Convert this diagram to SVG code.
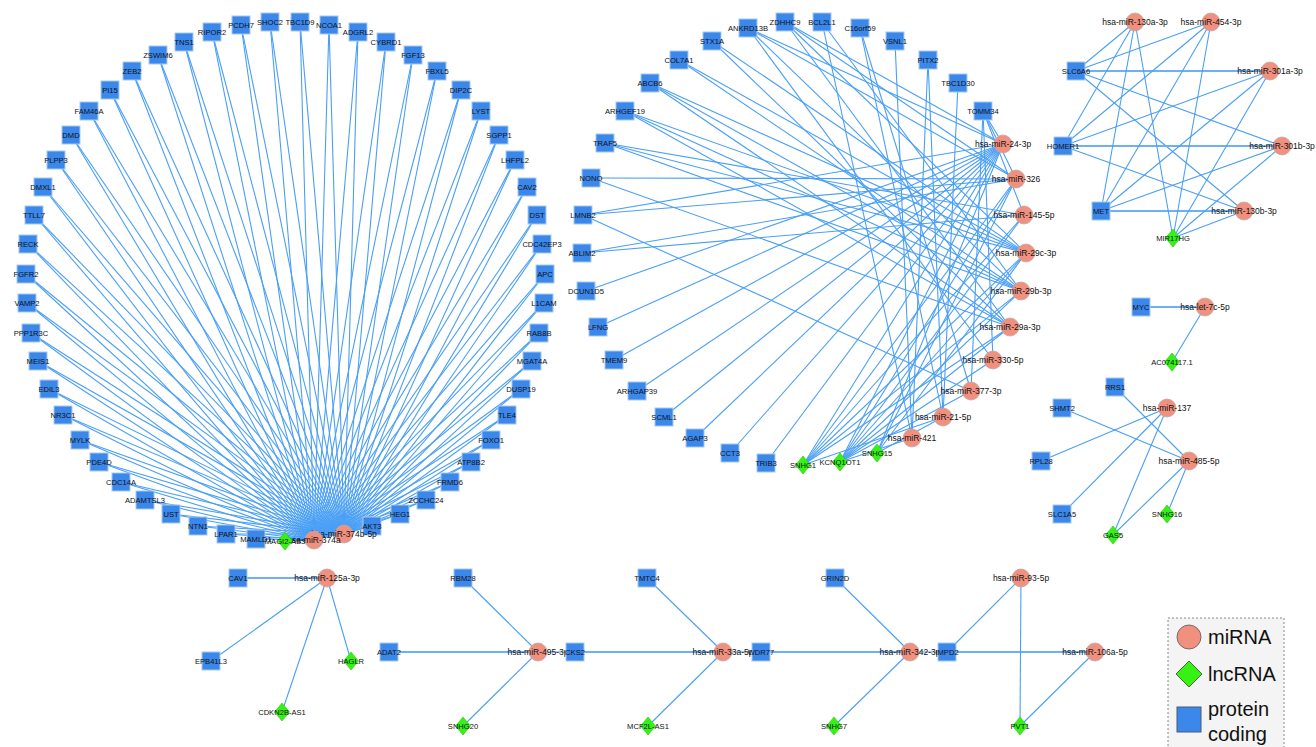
<svg xmlns="http://www.w3.org/2000/svg" width="1316" height="747" viewBox="0 0 1316 747">
<style>
.e line{stroke:#4a9ff5;stroke-width:1.1;fill:none}
.e line.w{stroke:#6db0f7;stroke-width:2.2}
.p{fill:#3b87ea;stroke:#a5c9f5;stroke-width:1}
.m{fill:#f0907f;stroke:#c4a7a4;stroke-width:0.8}
.l{fill:#35f214;stroke:#2cc812;stroke-width:0.6}
text{font-family:"Liberation Sans",Arial,Helvetica,sans-serif;fill:#111;text-anchor:middle;dominant-baseline:central;font-size:7.6px}
text.mt{font-size:8.5px}
.lg{font-size:20px;text-anchor:start;dominant-baseline:alphabetic;fill:#111}
</style>
<defs>
<rect id="sq" x="-9" y="-9" width="18" height="18"/>
<circle id="ci" r="9"/>
<polygon id="di" points="0,-9 7.5,0 0,9 -7.5,0"/>
</defs>
<rect width="1316" height="747" fill="#ffffff"/>
<g id="connectors" class="e">
<!-- left circle: proteins to miR-374a (314,540) and miR-374b-5p (344,534) -->
<line x1="256" y1="539" x2="314" y2="540"/><line x1="256" y1="539" x2="344" y2="534"/>
<line x1="226" y1="534" x2="314" y2="540"/><line x1="226" y1="534" x2="344" y2="534"/>
<line x1="198" y1="526" x2="314" y2="540"/><line x1="198" y1="526" x2="344" y2="534"/>
<line x1="171" y1="514" x2="314" y2="540"/><line x1="171" y1="514" x2="344" y2="534"/>
<line x1="145" y1="500" x2="314" y2="540"/><line x1="145" y1="500" x2="344" y2="534"/>
<line x1="121" y1="482" x2="314" y2="540"/><line x1="121" y1="482" x2="344" y2="534"/>
<line x1="99" y1="462" x2="314" y2="540"/><line x1="99" y1="462" x2="344" y2="534"/>
<line x1="80" y1="440" x2="314" y2="540"/><line x1="80" y1="440" x2="344" y2="534"/>
<line x1="63" y1="415" x2="314" y2="540"/><line x1="63" y1="415" x2="344" y2="534"/>
<line x1="49" y1="389" x2="314" y2="540"/><line x1="49" y1="389" x2="344" y2="534"/>
<line x1="38" y1="361" x2="314" y2="540"/><line x1="38" y1="361" x2="344" y2="534"/>
<line x1="31" y1="333" x2="314" y2="540"/><line x1="31" y1="333" x2="344" y2="534"/>
<line x1="27" y1="303" x2="314" y2="540"/><line x1="27" y1="303" x2="344" y2="534"/>
<line x1="26" y1="274" x2="314" y2="540"/><line x1="26" y1="274" x2="344" y2="534"/>
<line x1="28" y1="244" x2="314" y2="540"/><line x1="28" y1="244" x2="344" y2="534"/>
<line x1="34" y1="215" x2="314" y2="540"/><line x1="34" y1="215" x2="344" y2="534"/>
<line x1="43" y1="187" x2="314" y2="540"/><line x1="43" y1="187" x2="344" y2="534"/>
<line x1="56" y1="160" x2="314" y2="540"/><line x1="56" y1="160" x2="344" y2="534"/>
<line x1="71" y1="135" x2="314" y2="540"/><line x1="71" y1="135" x2="344" y2="534"/>
<line x1="89" y1="111" x2="314" y2="540"/><line x1="89" y1="111" x2="344" y2="534"/>
<line x1="110" y1="90" x2="314" y2="540"/><line x1="110" y1="90" x2="344" y2="534"/>
<line x1="132" y1="71" x2="314" y2="540"/><line x1="132" y1="71" x2="344" y2="534"/>
<line x1="158" y1="55" x2="314" y2="540"/><line x1="158" y1="55" x2="344" y2="534"/>
<line x1="184" y1="42" x2="314" y2="540"/><line x1="184" y1="42" x2="344" y2="534"/>
<line x1="212" y1="32" x2="314" y2="540"/><line x1="212" y1="32" x2="344" y2="534"/>
<line x1="241" y1="25" x2="314" y2="540"/><line x1="241" y1="25" x2="344" y2="534"/>
<line x1="270" y1="22" x2="314" y2="540"/><line x1="270" y1="22" x2="344" y2="534"/>
<line x1="300" y1="22" x2="314" y2="540"/><line x1="300" y1="22" x2="344" y2="534"/>
<line x1="329" y1="25" x2="314" y2="540"/><line x1="329" y1="25" x2="344" y2="534"/>
<line x1="358" y1="32" x2="314" y2="540"/><line x1="358" y1="32" x2="344" y2="534"/>
<line x1="386" y1="42" x2="314" y2="540"/><line x1="386" y1="42" x2="344" y2="534"/>
<line x1="413" y1="55" x2="314" y2="540"/><line x1="413" y1="55" x2="344" y2="534"/>
<line x1="437" y1="71" x2="314" y2="540"/><line x1="437" y1="71" x2="344" y2="534"/>
<line x1="461" y1="90" x2="314" y2="540"/><line x1="461" y1="90" x2="344" y2="534"/>
<line x1="481" y1="111" x2="314" y2="540"/><line x1="481" y1="111" x2="344" y2="534"/>
<line x1="499" y1="135" x2="314" y2="540"/><line x1="499" y1="135" x2="344" y2="534"/>
<line x1="515" y1="160" x2="314" y2="540"/><line x1="515" y1="160" x2="344" y2="534"/>
<line x1="527" y1="187" x2="314" y2="540"/><line x1="527" y1="187" x2="344" y2="534"/>
<line x1="537" y1="215" x2="314" y2="540"/><line x1="537" y1="215" x2="344" y2="534"/>
<line x1="542" y1="244" x2="314" y2="540"/><line x1="542" y1="244" x2="344" y2="534"/>
<line x1="545" y1="274" x2="314" y2="540"/><line x1="545" y1="274" x2="344" y2="534"/>
<line x1="544" y1="303" x2="314" y2="540"/><line x1="544" y1="303" x2="344" y2="534"/>
<line x1="539" y1="333" x2="314" y2="540"/><line x1="539" y1="333" x2="344" y2="534"/>
<line x1="532" y1="361" x2="314" y2="540"/><line x1="532" y1="361" x2="344" y2="534"/>
<line x1="521" y1="389" x2="314" y2="540"/><line x1="521" y1="389" x2="344" y2="534"/>
<line x1="507" y1="415" x2="314" y2="540"/><line x1="507" y1="415" x2="344" y2="534"/>
<line x1="491" y1="440" x2="314" y2="540"/><line x1="491" y1="440" x2="344" y2="534"/>
<line x1="471" y1="462" x2="314" y2="540"/><line x1="471" y1="462" x2="344" y2="534"/>
<line x1="450" y1="482" x2="314" y2="540"/><line x1="450" y1="482" x2="344" y2="534"/>
<line x1="426" y1="500" x2="314" y2="540"/><line x1="426" y1="500" x2="344" y2="534"/>
<line x1="400" y1="514" x2="314" y2="540"/><line x1="400" y1="514" x2="344" y2="534"/>
<line x1="372" y1="526" x2="314" y2="540"/><line x1="372" y1="526" x2="344" y2="534"/>
<line x1="285" y1="541" x2="314" y2="540"/><line x1="285" y1="541" x2="344" y2="534"/>
<!-- middle cluster -->
<line x1="748" y1="28" x2="1003" y2="144"/><line x1="748" y1="28" x2="1016" y2="179"/><line x1="748" y1="28" x2="1021" y2="291"/><line x1="748" y1="28" x2="993" y2="360"/>
<line x1="785" y1="22" x2="1003" y2="144"/><line x1="785" y1="22" x2="1016" y2="179"/><line x1="785" y1="22" x2="1026" y2="253"/><line x1="785" y1="22" x2="1010" y2="327"/>
<line x1="822" y1="22" x2="912" y2="438"/><line x1="822" y1="22" x2="1021" y2="291"/>
<line x1="860" y1="28" x2="943" y2="417"/><line x1="860" y1="28" x2="971" y2="391"/>
<line x1="895" y1="41" x2="912" y2="438"/>
<line x1="928" y1="60" x2="943" y2="417"/><line x1="928" y1="60" x2="912" y2="438"/>
<line x1="958" y1="83" x2="943" y2="417"/>
<line x1="983" y1="111" x2="1003" y2="144"/><line x1="983" y1="111" x2="1016" y2="179"/><line x1="983" y1="111" x2="1024" y2="215"/><line x1="983" y1="111" x2="993" y2="360"/><line x1="983" y1="111" x2="971" y2="391"/>
<line x1="712" y1="41" x2="1026" y2="253"/><line x1="712" y1="41" x2="1010" y2="327"/>
<line x1="679" y1="60" x2="1026" y2="253"/><line x1="679" y1="60" x2="1021" y2="291"/>
<line x1="650" y1="83" x2="1026" y2="253"/><line x1="650" y1="83" x2="1021" y2="291"/><line x1="650" y1="83" x2="1010" y2="327"/>
<line x1="625" y1="111" x2="1026" y2="253"/><line x1="625" y1="111" x2="1021" y2="291"/><line x1="625" y1="111" x2="1010" y2="327"/>
<line x1="605" y1="143" x2="1024" y2="215"/><line x1="605" y1="143" x2="1026" y2="253"/><line x1="605" y1="143" x2="1021" y2="291"/>
<line x1="591" y1="178" x2="1016" y2="179"/><line x1="591" y1="178" x2="1010" y2="327"/>
<line x1="583" y1="215" x2="1003" y2="144"/><line x1="583" y1="215" x2="1016" y2="179"/><line x1="583" y1="215" x2="971" y2="391"/>
<line x1="582" y1="253" x2="1016" y2="179"/><line x1="582" y1="253" x2="1024" y2="215"/>
<line x1="586" y1="291" x2="1003" y2="144"/>
<line x1="598" y1="327" x2="1003" y2="144"/>
<line x1="614" y1="360" x2="1003" y2="144"/>
<line x1="637" y1="391" x2="1003" y2="144"/>
<line x1="664" y1="417" x2="1003" y2="144"/>
<line x1="695" y1="438" x2="1003" y2="144"/>
<line x1="730" y1="453" x2="1003" y2="144"/>
<line x1="766" y1="463" x2="1003" y2="144"/>
<line x1="803" y1="465" x2="1003" y2="144"/><line x1="803" y1="465" x2="1016" y2="179"/><line x1="803" y1="465" x2="1024" y2="215"/><line x1="803" y1="465" x2="1026" y2="253"/><line x1="803" y1="465" x2="1021" y2="291"/><line x1="803" y1="465" x2="1010" y2="327"/><line x1="803" y1="465" x2="943" y2="417"/>
<line x1="840" y1="462" x2="1003" y2="144"/><line x1="840" y1="462" x2="1016" y2="179"/><line x1="840" y1="462" x2="1024" y2="215"/><line x1="840" y1="462" x2="1026" y2="253"/><line x1="840" y1="462" x2="1021" y2="291"/><line x1="840" y1="462" x2="1010" y2="327"/><line x1="840" y1="462" x2="993" y2="360"/><line x1="840" y1="462" x2="971" y2="391"/><line x1="840" y1="462" x2="912" y2="438"/>
<line x1="877" y1="453" x2="1003" y2="144"/><line x1="877" y1="453" x2="1016" y2="179"/><line x1="877" y1="453" x2="1026" y2="253"/><line x1="877" y1="453" x2="943" y2="417"/>
<!-- right cluster 1 -->
<line x1="1076" y1="71" x2="1135" y2="22"/><line x1="1076" y1="71" x2="1211" y2="22"/><line class="w" x1="1076" y1="71" x2="1270" y2="71"/><line x1="1076" y1="71" x2="1282" y2="146"/><line x1="1076" y1="71" x2="1244" y2="211"/>
<line x1="1063" y1="146" x2="1135" y2="22"/><line x1="1063" y1="146" x2="1211" y2="22"/><line x1="1063" y1="146" x2="1270" y2="71"/><line class="w" x1="1063" y1="146" x2="1282" y2="146"/><line x1="1063" y1="146" x2="1244" y2="211"/>
<line x1="1101" y1="211" x2="1135" y2="22"/><line x1="1101" y1="211" x2="1211" y2="22"/><line x1="1101" y1="211" x2="1270" y2="71"/><line x1="1101" y1="211" x2="1282" y2="146"/><line class="w" x1="1101" y1="211" x2="1244" y2="211"/>
<line x1="1173" y1="238" x2="1135" y2="22"/><line x1="1173" y1="238" x2="1211" y2="22"/><line x1="1173" y1="238" x2="1270" y2="71"/><line x1="1173" y1="238" x2="1282" y2="146"/><line x1="1173" y1="238" x2="1244" y2="211"/>
<!-- right cluster 2 -->
<line class="w" x1="1141" y1="307" x2="1205" y2="307"/>
<line x1="1205" y1="307" x2="1172" y2="362"/>
<line x1="1115" y1="387" x2="1189" y2="461"/>
<line x1="1062" y1="408" x2="1189" y2="461"/>
<line x1="1041" y1="461" x2="1167" y2="408"/>
<line x1="1062" y1="514" x2="1167" y2="408"/>
<line x1="1167" y1="408" x2="1113" y2="535"/>
<line x1="1189" y1="461" x2="1113" y2="535"/>
<line x1="1189" y1="461" x2="1167" y2="514"/>
<!-- bottom -->
<line class="w" x1="238" y1="578" x2="327" y2="578"/>
<line x1="327" y1="578" x2="211" y2="661"/>
<line x1="327" y1="578" x2="351" y2="661"/>
<line x1="327" y1="578" x2="282" y2="712"/>
<line x1="463" y1="578" x2="538" y2="652"/>
<line class="w" x1="389" y1="652" x2="538" y2="652"/>
<line x1="538" y1="652" x2="575" y2="652"/>
<line x1="538" y1="652" x2="463" y2="726"/>
<line class="w" x1="575" y1="652" x2="723" y2="652"/>
<line x1="647" y1="578" x2="723" y2="652"/>
<line x1="723" y1="652" x2="648" y2="726"/>
<line x1="723" y1="652" x2="761" y2="652"/>
<line class="w" x1="761" y1="652" x2="910" y2="652"/>
<line x1="835" y1="578" x2="910" y2="652"/>
<line x1="910" y1="652" x2="834" y2="726"/>
<line x1="910" y1="652" x2="947" y2="652"/>
<line class="w" x1="947" y1="652" x2="1095" y2="652"/>
<line x1="947" y1="652" x2="1021" y2="578"/>
<line x1="1021" y1="578" x2="1020" y2="726"/>
<line x1="1095" y1="652" x2="1020" y2="726"/>
</g>
<g id="nodes">
<!-- left circle proteins -->
<g id="MAMLD1" transform="translate(256,539)"><use href="#sq" class="p"/><text>MAMLD1</text></g>
<g id="LPAR1" transform="translate(226,534)"><use href="#sq" class="p"/><text>LPAR1</text></g>
<g id="NTN1" transform="translate(198,526)"><use href="#sq" class="p"/><text>NTN1</text></g>
<g id="UST" transform="translate(171,514)"><use href="#sq" class="p"/><text>UST</text></g>
<g id="ADAMTSL3" transform="translate(145,500)"><use href="#sq" class="p"/><text>ADAMTSL3</text></g>
<g id="CDC14A" transform="translate(121,482)"><use href="#sq" class="p"/><text>CDC14A</text></g>
<g id="PDE4D" transform="translate(99,462)"><use href="#sq" class="p"/><text>PDE4D</text></g>
<g id="MYLK" transform="translate(80,440)"><use href="#sq" class="p"/><text>MYLK</text></g>
<g id="NR3C1" transform="translate(63,415)"><use href="#sq" class="p"/><text>NR3C1</text></g>
<g id="EDIL3" transform="translate(49,389)"><use href="#sq" class="p"/><text>EDIL3</text></g>
<g id="MEIS1" transform="translate(38,361)"><use href="#sq" class="p"/><text>MEIS1</text></g>
<g id="PPP1R3C" transform="translate(31,333)"><use href="#sq" class="p"/><text>PPP1R3C</text></g>
<g id="VAMP2" transform="translate(27,303)"><use href="#sq" class="p"/><text>VAMP2</text></g>
<g id="FGFR2" transform="translate(26,274)"><use href="#sq" class="p"/><text>FGFR2</text></g>
<g id="RECK" transform="translate(28,244)"><use href="#sq" class="p"/><text>RECK</text></g>
<g id="TTLL7" transform="translate(34,215)"><use href="#sq" class="p"/><text>TTLL7</text></g>
<g id="DMXL1" transform="translate(43,187)"><use href="#sq" class="p"/><text>DMXL1</text></g>
<g id="PLPP3" transform="translate(56,160)"><use href="#sq" class="p"/><text>PLPP3</text></g>
<g id="DMD" transform="translate(71,135)"><use href="#sq" class="p"/><text>DMD</text></g>
<g id="FAM46A" transform="translate(89,111)"><use href="#sq" class="p"/><text>FAM46A</text></g>
<g id="PI15" transform="translate(110,90)"><use href="#sq" class="p"/><text>PI15</text></g>
<g id="ZEB2" transform="translate(132,71)"><use href="#sq" class="p"/><text>ZEB2</text></g>
<g id="ZSWIM6" transform="translate(158,55)"><use href="#sq" class="p"/><text>ZSWIM6</text></g>
<g id="TNS1" transform="translate(184,42)"><use href="#sq" class="p"/><text>TNS1</text></g>
<g id="RIPOR2" transform="translate(212,32)"><use href="#sq" class="p"/><text>RIPOR2</text></g>
<g id="PCDH7" transform="translate(241,25)"><use href="#sq" class="p"/><text>PCDH7</text></g>
<g id="SHOC2" transform="translate(270,22)"><use href="#sq" class="p"/><text>SHOC2</text></g>
<g id="TBC1D9" transform="translate(300,22)"><use href="#sq" class="p"/><text>TBC1D9</text></g>
<g id="NCOA1" transform="translate(329,25)"><use href="#sq" class="p"/><text>NCOA1</text></g>
<g id="ADGRL2" transform="translate(358,32)"><use href="#sq" class="p"/><text>ADGRL2</text></g>
<g id="CYBRD1" transform="translate(386,42)"><use href="#sq" class="p"/><text>CYBRD1</text></g>
<g id="FGF13" transform="translate(413,55)"><use href="#sq" class="p"/><text>FGF13</text></g>
<g id="FBXL5" transform="translate(437,71)"><use href="#sq" class="p"/><text>FBXL5</text></g>
<g id="DIP2C" transform="translate(461,90)"><use href="#sq" class="p"/><text>DIP2C</text></g>
<g id="LYST" transform="translate(481,111)"><use href="#sq" class="p"/><text>LYST</text></g>
<g id="SGPP1" transform="translate(499,135)"><use href="#sq" class="p"/><text>SGPP1</text></g>
<g id="LHFPL2" transform="translate(515,160)"><use href="#sq" class="p"/><text>LHFPL2</text></g>
<g id="CAV2" transform="translate(527,187)"><use href="#sq" class="p"/><text>CAV2</text></g>
<g id="DST" transform="translate(537,215)"><use href="#sq" class="p"/><text>DST</text></g>
<g id="CDC42EP3" transform="translate(542,244)"><use href="#sq" class="p"/><text>CDC42EP3</text></g>
<g id="APC" transform="translate(545,274)"><use href="#sq" class="p"/><text>APC</text></g>
<g id="L1CAM" transform="translate(544,303)"><use href="#sq" class="p"/><text>L1CAM</text></g>
<g id="RAB8B" transform="translate(539,333)"><use href="#sq" class="p"/><text>RAB8B</text></g>
<g id="MGAT4A" transform="translate(532,361)"><use href="#sq" class="p"/><text>MGAT4A</text></g>
<g id="DUSP19" transform="translate(521,389)"><use href="#sq" class="p"/><text>DUSP19</text></g>
<g id="TLE4" transform="translate(507,415)"><use href="#sq" class="p"/><text>TLE4</text></g>
<g id="FOXO1" transform="translate(491,440)"><use href="#sq" class="p"/><text>FOXO1</text></g>
<g id="ATP8B2" transform="translate(471,462)"><use href="#sq" class="p"/><text>ATP8B2</text></g>
<g id="FRMD6" transform="translate(450,482)"><use href="#sq" class="p"/><text>FRMD6</text></g>
<g id="ZCCHC24" transform="translate(426,500)"><use href="#sq" class="p"/><text>ZCCHC24</text></g>
<g id="HEG1" transform="translate(400,514)"><use href="#sq" class="p"/><text>HEG1</text></g>
<g id="AKT3" transform="translate(372,526)"><use href="#sq" class="p"/><text>AKT3</text></g>
<g id="hsa-miR-374b-5p" transform="translate(344,534)"><use href="#ci" class="m"/><text class="mt">hsa-miR-374b-5p</text></g>
<g id="hsa-miR-374a" transform="translate(314,540)"><use href="#ci" class="m"/><text class="mt">hsa-miR-374a</text></g>
<g id="MAGI2-AS3" transform="translate(285,541)"><use href="#di" class="l"/><text>MAGI2-AS3</text></g>
<!-- middle cluster -->
<g id="ANKRD13B" transform="translate(748,28)"><use href="#sq" class="p"/><text>ANKRD13B</text></g>
<g id="ZDHHC9" transform="translate(785,22)"><use href="#sq" class="p"/><text>ZDHHC9</text></g>
<g id="BCL2L1" transform="translate(822,22)"><use href="#sq" class="p"/><text>BCL2L1</text></g>
<g id="C16orf59" transform="translate(860,28)"><use href="#sq" class="p"/><text>C16orf59</text></g>
<g id="VSNL1" transform="translate(895,41)"><use href="#sq" class="p"/><text>VSNL1</text></g>
<g id="PITX2" transform="translate(928,60)"><use href="#sq" class="p"/><text>PITX2</text></g>
<g id="TBC1D30" transform="translate(958,83)"><use href="#sq" class="p"/><text>TBC1D30</text></g>
<g id="TOMM34" transform="translate(983,111)"><use href="#sq" class="p"/><text>TOMM34</text></g>
<g id="STX1A" transform="translate(712,41)"><use href="#sq" class="p"/><text>STX1A</text></g>
<g id="COL7A1" transform="translate(679,60)"><use href="#sq" class="p"/><text>COL7A1</text></g>
<g id="ABCB6" transform="translate(650,83)"><use href="#sq" class="p"/><text>ABCB6</text></g>
<g id="ARHGEF19" transform="translate(625,111)"><use href="#sq" class="p"/><text>ARHGEF19</text></g>
<g id="TRAF5" transform="translate(605,143)"><use href="#sq" class="p"/><text>TRAF5</text></g>
<g id="NONO" transform="translate(591,178)"><use href="#sq" class="p"/><text>NONO</text></g>
<g id="LMNB2" transform="translate(583,215)"><use href="#sq" class="p"/><text>LMNB2</text></g>
<g id="ABLIM2" transform="translate(582,253)"><use href="#sq" class="p"/><text>ABLIM2</text></g>
<g id="DCUN1D5" transform="translate(586,291)"><use href="#sq" class="p"/><text>DCUN1D5</text></g>
<g id="LFNG" transform="translate(598,327)"><use href="#sq" class="p"/><text>LFNG</text></g>
<g id="TMEM9" transform="translate(614,360)"><use href="#sq" class="p"/><text>TMEM9</text></g>
<g id="ARHGAP39" transform="translate(637,391)"><use href="#sq" class="p"/><text>ARHGAP39</text></g>
<g id="SCML1" transform="translate(664,417)"><use href="#sq" class="p"/><text>SCML1</text></g>
<g id="AGAP3" transform="translate(695,438)"><use href="#sq" class="p"/><text>AGAP3</text></g>
<g id="CCT3" transform="translate(730,453)"><use href="#sq" class="p"/><text>CCT3</text></g>
<g id="TRIB3" transform="translate(766,463)"><use href="#sq" class="p"/><text>TRIB3</text></g>
<g id="SNHG1" transform="translate(803,465)"><use href="#di" class="l"/><text>SNHG1</text></g>
<g id="KCNQ1OT1" transform="translate(840,462)"><use href="#di" class="l"/><text>KCNQ1OT1</text></g>
<g id="SNHG15" transform="translate(877,453)"><use href="#di" class="l"/><text>SNHG15</text></g>
<g id="hsa-miR-421" transform="translate(912,438)"><use href="#ci" class="m"/><text class="mt">hsa-miR-421</text></g>
<g id="hsa-miR-21-5p" transform="translate(943,417)"><use href="#ci" class="m"/><text class="mt">hsa-miR-21-5p</text></g>
<g id="hsa-miR-377-3p" transform="translate(971,391)"><use href="#ci" class="m"/><text class="mt">hsa-miR-377-3p</text></g>
<g id="hsa-miR-330-5p" transform="translate(993,360)"><use href="#ci" class="m"/><text class="mt">hsa-miR-330-5p</text></g>
<g id="hsa-miR-29a-3p" transform="translate(1010,327)"><use href="#ci" class="m"/><text class="mt">hsa-miR-29a-3p</text></g>
<g id="hsa-miR-29b-3p" transform="translate(1021,291)"><use href="#ci" class="m"/><text class="mt">hsa-miR-29b-3p</text></g>
<g id="hsa-miR-29c-3p" transform="translate(1026,253)"><use href="#ci" class="m"/><text class="mt">hsa-miR-29c-3p</text></g>
<g id="hsa-miR-145-5p" transform="translate(1024,215)"><use href="#ci" class="m"/><text class="mt">hsa-miR-145-5p</text></g>
<g id="hsa-miR-326" transform="translate(1016,179)"><use href="#ci" class="m"/><text class="mt">hsa-miR-326</text></g>
<g id="hsa-miR-24-3p" transform="translate(1003,144)"><use href="#ci" class="m"/><text class="mt">hsa-miR-24-3p</text></g>
<!-- right cluster 1 -->
<g id="SLC6A6" transform="translate(1076,71)"><use href="#sq" class="p"/><text>SLC6A6</text></g>
<g id="HOMER1" transform="translate(1063,146)"><use href="#sq" class="p"/><text>HOMER1</text></g>
<g id="MET" transform="translate(1101,211)"><use href="#sq" class="p"/><text>MET</text></g>
<g id="MIR17HG" transform="translate(1173,238)"><use href="#di" class="l"/><text>MIR17HG</text></g>
<g id="hsa-miR-130a-3p" transform="translate(1135,22)"><use href="#ci" class="m"/><text class="mt">hsa-miR-130a-3p</text></g>
<g id="hsa-miR-454-3p" transform="translate(1211,22)"><use href="#ci" class="m"/><text class="mt">hsa-miR-454-3p</text></g>
<g id="hsa-miR-301a-3p" transform="translate(1270,71)"><use href="#ci" class="m"/><text class="mt">hsa-miR-301a-3p</text></g>
<g id="hsa-miR-301b-3p" transform="translate(1282,146)"><use href="#ci" class="m"/><text class="mt">hsa-miR-301b-3p</text></g>
<g id="hsa-miR-130b-3p" transform="translate(1244,211)"><use href="#ci" class="m"/><text class="mt">hsa-miR-130b-3p</text></g>
<!-- right cluster 2 -->
<g id="MYC" transform="translate(1141,307)"><use href="#sq" class="p"/><text>MYC</text></g>
<g id="hsa-let-7c-5p" transform="translate(1205,307)"><use href="#ci" class="m"/><text class="mt">hsa-let-7c-5p</text></g>
<g id="AC074117.1" transform="translate(1172,362)"><use href="#di" class="l"/><text>AC074117.1</text></g>
<g id="RRS1" transform="translate(1115,387)"><use href="#sq" class="p"/><text>RRS1</text></g>
<g id="SHMT2" transform="translate(1062,408)"><use href="#sq" class="p"/><text>SHMT2</text></g>
<g id="RPL28" transform="translate(1041,461)"><use href="#sq" class="p"/><text>RPL28</text></g>
<g id="SLC1A5" transform="translate(1062,514)"><use href="#sq" class="p"/><text>SLC1A5</text></g>
<g id="hsa-miR-137" transform="translate(1167,408)"><use href="#ci" class="m"/><text class="mt">hsa-miR-137</text></g>
<g id="hsa-miR-485-5p" transform="translate(1189,461)"><use href="#ci" class="m"/><text class="mt">hsa-miR-485-5p</text></g>
<g id="SNHG16" transform="translate(1167,514)"><use href="#di" class="l"/><text>SNHG16</text></g>
<g id="GAS5" transform="translate(1113,535)"><use href="#di" class="l"/><text>GAS5</text></g>
<!-- bottom -->
<g id="CAV1" transform="translate(238,578)"><use href="#sq" class="p"/><text>CAV1</text></g>
<g id="hsa-miR-125a-3p" transform="translate(327,578)"><use href="#ci" class="m"/><text class="mt">hsa-miR-125a-3p</text></g>
<g id="EPB41L3" transform="translate(211,661)"><use href="#sq" class="p"/><text>EPB41L3</text></g>
<g id="HAGLR" transform="translate(351,661)"><use href="#di" class="l"/><text>HAGLR</text></g>
<g id="CDKN2B-AS1" transform="translate(282,712)"><use href="#di" class="l"/><text>CDKN2B-AS1</text></g>
<g id="RBM28" transform="translate(463,578)"><use href="#sq" class="p"/><text>RBM28</text></g>
<g id="ADAT2" transform="translate(389,652)"><use href="#sq" class="p"/><text>ADAT2</text></g>
<g id="hsa-miR-495-3p" transform="translate(538,652)"><use href="#ci" class="m"/><text class="mt">hsa-miR-495-3p</text></g>
<g id="CKS2" transform="translate(575,652)"><use href="#sq" class="p"/><text>CKS2</text></g>
<g id="SNHG20" transform="translate(463,726)"><use href="#di" class="l"/><text>SNHG20</text></g>
<g id="TMTC4" transform="translate(647,578)"><use href="#sq" class="p"/><text>TMTC4</text></g>
<g id="hsa-miR-33a-5p" transform="translate(723,652)"><use href="#ci" class="m"/><text class="mt">hsa-miR-33a-5p</text></g>
<g id="WDR77" transform="translate(761,652)"><use href="#sq" class="p"/><text>WDR77</text></g>
<g id="MCF2L-AS1" transform="translate(648,726)"><use href="#di" class="l"/><text>MCF2L-AS1</text></g>
<g id="GRIN2D" transform="translate(835,578)"><use href="#sq" class="p"/><text>GRIN2D</text></g>
<g id="hsa-miR-342-3p" transform="translate(910,652)"><use href="#ci" class="m"/><text class="mt">hsa-miR-342-3p</text></g>
<g id="IMPD2" transform="translate(947,652)"><use href="#sq" class="p"/><text>IMPD2</text></g>
<g id="SNHG7" transform="translate(834,726)"><use href="#di" class="l"/><text>SNHG7</text></g>
<g id="hsa-miR-93-5p" transform="translate(1021,578)"><use href="#ci" class="m"/><text class="mt">hsa-miR-93-5p</text></g>
<g id="PVT1" transform="translate(1020,726)"><use href="#di" class="l"/><text>PVT1</text></g>
<g id="hsa-miR-106a-5p" transform="translate(1095,652)"><use href="#ci" class="m"/><text class="mt">hsa-miR-106a-5p</text></g>
</g>
<g id="legend">
<rect x="1168" y="618" width="116" height="140" fill="#f4f4f4" stroke="#888" stroke-width="1" stroke-dasharray="2,2"/>
<circle cx="1189" cy="637" r="12" fill="#f0907f" stroke="#7a6a6a" stroke-width="1"/>
<text class="lg" x="1208" y="644">miRNA</text>
<polygon points="1189,661 1202,674 1189,687 1176,674" fill="#35f214" stroke="#4a6a3a" stroke-width="1"/>
<text class="lg" x="1208" y="681">lncRNA</text>
<rect x="1177" y="707" width="24" height="25" fill="#3b87ea" stroke="#4a5a7a" stroke-width="1"/>
<text class="lg" x="1208" y="716">protein</text>
<text class="lg" x="1208" y="741">coding</text>
</g>
</svg>
